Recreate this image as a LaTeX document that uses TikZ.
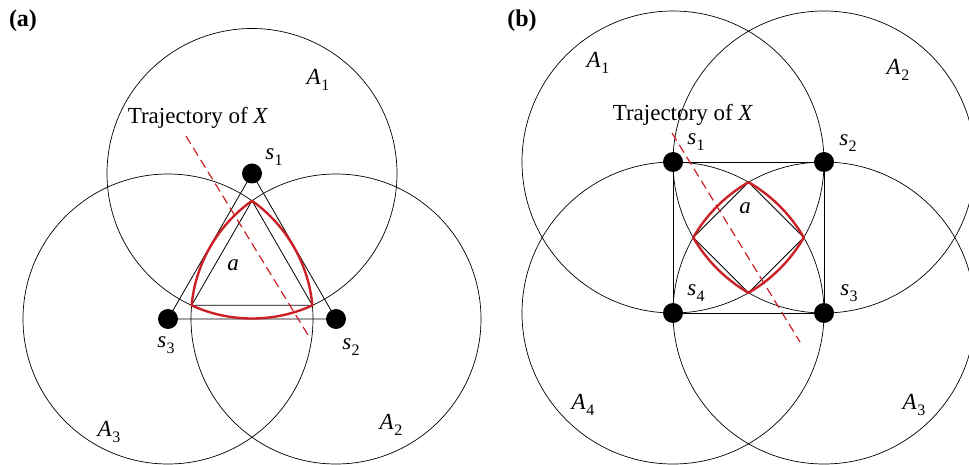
\documentclass[tikz,border=0pt]{standalone}
\usepackage{fontspec}
\setmainfont{Liberation Serif}
\definecolor{redc}{RGB}{204,32,39}
\newcommand\lsub[2]{\textit{#1}\kern0.02em\raisebox{-0.28em}{\fontsize{16}{18}\selectfont #2}}
\begin{document}
\begin{tikzpicture}[x=1pt,y=-1pt,
  lab/.style={font=\fontsize{23}{27}\selectfont, inner sep=0pt},
  tag/.style={font=\fontsize{24}{28}\selectfont\bfseries, inner sep=0pt},
  circ/.style={draw=black, line width=0.7pt},
  sens/.style={circle, fill=black, minimum size=20pt, inner sep=0pt},
  traj/.style={draw=redc, line width=1.2pt, dash pattern=on 9pt off 5pt},
  region/.style={draw=redc, line width=2.4pt},
  edge/.style={draw=black, line width=0.8pt}]
\useasboundingbox (0,0) rectangle (969,465);
\clip (0,0) rectangle (969,465);
% ---------------- panel (a)
\coordinate (a1) at (252,173.5);
\coordinate (a2) at (336,319);
\coordinate (a3) at (168,319);
\coordinate (ta) at (252,200.8);
\coordinate (la) at (191.6,305.3);
\coordinate (ra) at (312.4,305.3);
\foreach \c in {a1,a2,a3} \path[circ] (\c) circle[radius=145pt];
\path[edge] (a1) -- (a2) -- (a3) -- cycle;
\path[edge] (ta) -- (la) -- (ra) -- cycle;
\begin{scope}\clip (a2) circle[radius=145.6pt]; \clip (a3) circle[radius=145.6pt];
  \path[region] (a1) circle[radius=145pt];\end{scope}
\begin{scope}\clip (a1) circle[radius=145.6pt]; \clip (a3) circle[radius=145.6pt];
  \path[region] (a2) circle[radius=145pt];\end{scope}
\begin{scope}\clip (a1) circle[radius=145.6pt]; \clip (a2) circle[radius=145.6pt];
  \path[region] (a3) circle[radius=145pt];\end{scope}
\coordinate (tra1) at (186,136);
\coordinate (tra2) at (308,335);
\path[traj] (tra1) -- (tra2);
\node[sens] (sa1) at (a1) {};
\node[sens] (sa2) at (a2) {};
\node[sens] (sa3) at (a3) {};
\node[tag] (taga) at (23,21) {(a)};
\node[lab] (A1a) at (318,80) {\lsub{A}{1}};
\node[lab] (trja) at (198,118) {Trajectory of \textit{X}};
\node[lab] (s1a) at (274,157) {\lsub{s}{1}};
\node[lab] (aa) at (233,265) {\textit{a}};
\node[lab] (s3a) at (166,345) {\lsub{s}{3}};
\node[lab] (s2a) at (351,347) {\lsub{s}{2}};
\node[lab] (A3a) at (109,432) {\lsub{A}{3}};
\node[lab] (A2a) at (391,425) {\lsub{A}{2}};
% ---------------- panel (b)
\coordinate (b1) at (673,162);
\coordinate (b2) at (824,162);
\coordinate (b3) at (824,313);
\coordinate (b4) at (673,313);
\coordinate (tb) at (748.5,182.2);
\coordinate (rb) at (803.8,237.5);
\coordinate (bb) at (748.5,292.8);
\coordinate (lb) at (693.2,237.5);
\foreach \c in {b1,b2,b3,b4} \path[circ] (\c) circle[radius=151pt];
\path[edge] (b1) -- (b2) -- (b3) -- (b4) -- cycle;
\path[edge] (tb) -- (rb) -- (bb) -- (lb) -- cycle;
\foreach \c/\o/\p/\q in {b1/b2/b3/b4, b2/b1/b3/b4, b3/b1/b2/b4, b4/b1/b2/b3}{
  \begin{scope}
    \clip (\o) circle[radius=151.6pt];
    \clip (\p) circle[radius=151.6pt];
    \clip (\q) circle[radius=151.6pt];
    \path[region] (\c) circle[radius=151pt];
  \end{scope}}
\coordinate (trb1) at (672,133);
\coordinate (trb2) at (800,342);
\path[traj] (trb1) -- (trb2);
\node[sens] (sb1) at (b1) {};
\node[sens] (sb2) at (b2) {};
\node[sens] (sb3) at (b3) {};
\node[sens] (sb4) at (b4) {};
\node[tag] (tagb) at (522,21) {(b)};
\node[lab] (A1b) at (598,63) {\lsub{A}{1}};
\node[lab] (A2b) at (898,70) {\lsub{A}{2}};
\node[lab] (trjb) at (683,115) {Trajectory of \textit{X}};
\node[lab] (s1b) at (696,142) {\lsub{s}{1}};
\node[lab] (s2b) at (848,143) {\lsub{s}{2}};
\node[lab] (ab) at (745,208) {\textit{a}};
\node[lab] (s4b) at (696,293) {\lsub{s}{4}};
\node[lab] (s3b) at (849,293) {\lsub{s}{3}};
\node[lab] (A4b) at (583,405) {\lsub{A}{4}};
\node[lab] (A3b) at (914,405) {\lsub{A}{3}};
\end{tikzpicture}
\end{document}
